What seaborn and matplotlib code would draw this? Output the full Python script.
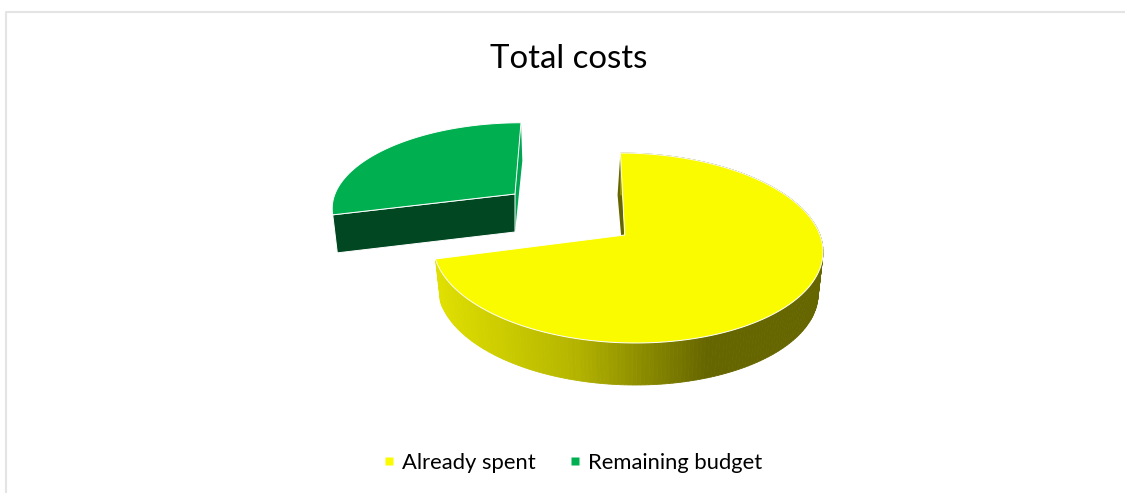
import numpy as np
import matplotlib
matplotlib.use("Agg")
import matplotlib.pyplot as plt
from matplotlib.lines import Line2D
from matplotlib.patches import Polygon
import seaborn as sns

# Budget shares, in percent
categories = ["Already spent", "Remaining budget"]
shares = [71, 29]
title_text = "Total costs"

sns.set_theme(style="white")
plt.rcParams["font.family"] = ["Lato", "DejaVu Sans"]

SPENT, REMAINING = sns.color_palette(["#FBFB00", "#00AF50"])
GREEN_SHADE = "#004722"
GREEN_INNER = "#00A651"
OLIVE = "#666600"
FRAME = "#E4E4E4"

# Projection of the tilted pie: plane coordinates to page pixels
SPENT_VIEW = dict(cx=627, cy=235, a=193, b=93.2, s=-7.5, k=0.137, tip=-0.012, depth=42, taper=0.975)
REMAINING_VIEW = dict(cx=515, cy=194, a=180, b=81, s=6.8, k=0.137, tip=0.0, depth=38, taper=0.975)


def project(view, x, y, lowered=False):
    w = 1 + view["k"] * y
    sx = view["cx"] + (view["a"] * x + view["s"] * y) / w
    sy = view["cy"] - view["b"] * y / w
    if lowered:
        sx = view["cx"] + (sx - view["cx"]) * view["taper"]
        sy = sy + view["depth"]
    return np.column_stack([sx, sy])


def rim(view, start, stop, lowered=False, n=240):
    theta = np.radians(np.linspace(start, stop, n))
    return project(view, np.sin(theta), np.cos(theta), lowered)


def apex(view, lowered=False):
    return project(view, np.array([view["tip"]]), np.array([0.0]), lowered)


fig = plt.figure(figsize=(11.25, 4.93), dpi=100)
ax = fig.add_axes([0, 0, 1, 1])
ax.set_xlim(0, 1125)
ax.set_ylim(493, 0)
ax.axis("off")

# Open frame along the top and left edges
ax.add_line(Line2D([6, 6, 1125], [493, 12, 12], color=FRAME, lw=1.5))

# Wedge sweeps, clockwise from twelve o'clock
sweep = 360 * shares[0] / sum(shares)
face_edge = dict(edgecolor="white", linewidth=0.7, joinstyle="round")

# Spent wedge: inner cut face, then the shaded outer wall, then the top
top_pt = rim(SPENT_VIEW, 0, 0, n=1)
inner = np.vstack([top_pt, rim(SPENT_VIEW, 0, 0, lowered=True, n=1) + [-3.0, 0],
                   apex(SPENT_VIEW, lowered=True), apex(SPENT_VIEW)])
ax.add_patch(Polygon(inner, closed=True, facecolor=OLIVE, edgecolor="none", zorder=2))

outer_top = rim(SPENT_VIEW, 0, sweep)
outer_low = rim(SPENT_VIEW, 0, sweep, lowered=True)
ramp = sns.blend_palette(["#E0E000", "#B6B600", OLIVE], n_colors=256)
for i in range(len(outer_top) - 1):
    quad = np.vstack([outer_top[i], outer_top[i + 1], outer_low[i + 1], outer_low[i]])
    t = np.clip((quad[:, 0].mean() - 437) / (705 - 437), 0, 1)
    shade = ramp[int(t * 255)]
    ax.add_patch(Polygon(quad, closed=True, facecolor=shade, edgecolor=shade, lw=0.6, zorder=3))

spent_face = np.vstack([apex(SPENT_VIEW), rim(SPENT_VIEW, 0, sweep)])
ax.add_patch(Polygon(spent_face, closed=True, facecolor=SPENT, zorder=4, **face_edge))

# Remaining wedge, pulled out of the pie
edge_a = rim(REMAINING_VIEW, sweep, sweep, n=1)
edge_b = rim(REMAINING_VIEW, 360, 360, n=1)
inner_b = np.vstack([edge_b, rim(REMAINING_VIEW, 360, 360, lowered=True, n=1) + [1.5, 0],
                     apex(REMAINING_VIEW, lowered=True), apex(REMAINING_VIEW)])
ax.add_patch(Polygon(inner_b, closed=True, facecolor=GREEN_INNER, edgecolor="none", zorder=2))
inner_a = np.vstack([apex(REMAINING_VIEW), apex(REMAINING_VIEW, lowered=True),
                     rim(REMAINING_VIEW, sweep, sweep, lowered=True, n=1), edge_a])
ax.add_patch(Polygon(inner_a, closed=True, facecolor=GREEN_SHADE, **face_edge, zorder=3))
remaining_face = np.vstack([apex(REMAINING_VIEW), rim(REMAINING_VIEW, sweep, 360)])
ax.add_patch(Polygon(remaining_face, closed=True, facecolor=REMAINING, zorder=4, **face_edge))

ax.text(568.5, 59, title_text, ha="center", va="center", fontsize=23.8, color="black")

handles = [Line2D([], [], linestyle="none", marker="s", markersize=5.8,
                  markerfacecolor=c, markeredgecolor="none", label=name)
           for c, name in zip([SPENT, REMAINING], categories)]
ax.legend(handles=handles, ncol=2, loc="center", bbox_to_anchor=(570, 463),
          bbox_transform=ax.transData, frameon=False, fontsize=15.8,
          labelcolor="black", handletextpad=0.1, columnspacing=1.28, handlelength=1.0)

fig.savefig("out.png", dpi=100, facecolor="white")
